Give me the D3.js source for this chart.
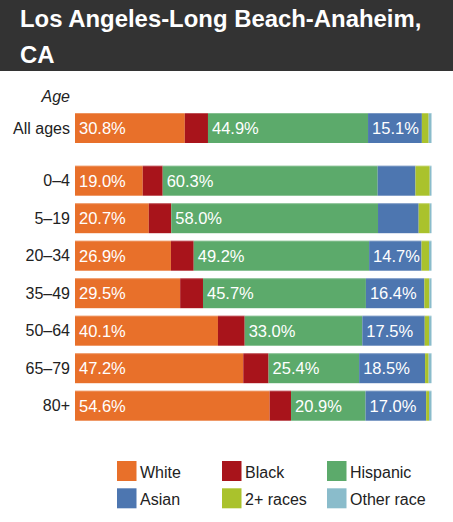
<!DOCTYPE html>
<html>
<head>
<meta charset="utf-8">
<script src="https://cdn.jsdelivr.net/npm/d3@7"></script>
<style>
  html, body { margin: 0; padding: 0; background: #fff; }
  svg { display: block; font-family: "Liberation Sans", Arial, sans-serif; }
</style>
</head>
<body>
<svg id="chart" width="453" height="522"></svg>
<script>
const titleLines = ["Los Angeles-Long Beach-Anaheim,", "CA"];
const races = ["White", "Black", "Hispanic", "Asian", "2+ races", "Other race"];
const colors = ["#e8702a", "#a8141b", "#5caa6b", "#4d76b0", "#aac22c", "#8abccb"];
const totalLabel = "All ages";
const totalValues = [30.8, 6.5, 44.9, 15.1, 1.9, 0.8];
const ageGroups = ["0–4", "5–19", "20–34", "35–49", "50–64", "65–79", "80+"];
const whiteVals    = [19.0, 20.7, 26.9, 29.5, 40.1, 47.2, 54.6];
const blackVals    = [5.6, 6.3, 6.4, 6.4, 7.5, 7.1, 6.0];
const hispanicVals = [60.3, 58.0, 49.2, 45.7, 33.0, 25.4, 20.9];
const asianVals    = [10.6, 11.4, 14.7, 16.4, 17.5, 18.5, 17.0];
const multiVals    = [4.0, 3.1, 2.1, 1.4, 1.2, 1.0, 0.8];
const otherVals    = [0.5, 0.5, 0.7, 0.6, 0.7, 0.8, 0.7];

const svg = d3.select("#chart");

// Title bar
svg.append("rect").attr("x", 0).attr("y", 0).attr("width", 453).attr("height", 71).attr("fill", "#333333");
svg.selectAll("text.title").data(titleLines).enter().append("text")
  .attr("class", "title")
  .attr("x", 20).attr("y", (d, i) => 26.5 + i * 36.3)
  .attr("fill", "#ffffff").attr("font-weight", "bold").attr("font-size", 23.9)
  .text(d => d);

// Build rows
const rows = [{ label: totalLabel, values: totalValues, total: true }].concat(
  ageGroups.map((a, i) => ({ label: a, values: [whiteVals[i], blackVals[i], hispanicVals[i], asianVals[i], multiVals[i], otherVals[i]] }))
);

const x = d3.scaleLinear().domain([0, 100]).range([75, 431.5]);
const yAges = d3.scaleBand().domain(ageGroups).range([161.95, 424.45]).paddingInner(0.2).paddingOuter(0.1);
const bw = yAges.bandwidth();
const yPos = r => r.total ? 113 : yAges(r.label);

const g = svg.append("g");
const rowG = g.selectAll("g.row").data(rows).enter().append("g")
  .attr("class", "row")
  .attr("transform", d => `translate(0,${yPos(d)})`);

rowG.each(function(r) {
  let cum = 0;
  const segs = r.values.map((v, i) => { const s = { v, i, x0: cum }; cum += v; return s; });
  const sel = d3.select(this);
  sel.selectAll("rect").data(segs).enter().append("rect")
    .attr("x", s => x(s.x0))
    .attr("y", 0)
    .attr("width", s => x(s.x0 + s.v) - x(s.x0))
    .attr("height", bw)
    .attr("fill", s => colors[s.i]);
  sel.selectAll("line.top").data(segs).enter().append("line")
    .attr("class", "top")
    .attr("x1", s => x(s.x0)).attr("x2", s => x(s.x0 + s.v))
    .attr("y1", 0.5).attr("y2", 0.5)
    .attr("stroke", "#ffffff").attr("stroke-opacity", 0.25);
  sel.selectAll("text.val").data(segs.filter(s => s.v >= 12)).enter().append("text")
    .attr("class", "val")
    .attr("x", s => x(s.x0) + 4)
    .attr("y", bw / 2)
    .attr("dy", "0.36em")
    .attr("fill", "#ffffff")
    .attr("font-size", 16.5)
    .text(s => s.v.toFixed(1) + "%");
});

// Y labels
g.selectAll("text.ylab").data(rows).enter().append("text")
  .attr("class", "ylab")
  .attr("x", 70).attr("y", d => yPos(d) + bw / 2)
  .attr("dy", "0.36em")
  .attr("text-anchor", "end")
  .attr("fill", "#222222")
  .attr("font-size", 16)
  .text(d => d.label);

svg.append("text")
  .attr("x", 70).attr("y", 96).attr("dy", "0.36em")
  .attr("text-anchor", "end").attr("font-style", "italic")
  .attr("fill", "#222222").attr("font-size", 16)
  .text("Age");

// Legend
const legend = svg.append("g");
const li = legend.selectAll("g.li").data(races).enter().append("g")
  .attr("class", "li")
  .attr("transform", (d, i) => `translate(${117 + (i % 3) * 105},${461 + Math.floor(i / 3) * 27.3})`);
li.append("rect").attr("width", 19.5).attr("height", 20).attr("fill", (d, i) => colors[i]);
li.append("text").attr("x", 23).attr("y", 17).attr("font-size", 16).attr("fill", "#222222").text(d => d);
</script>
</body>
</html>
